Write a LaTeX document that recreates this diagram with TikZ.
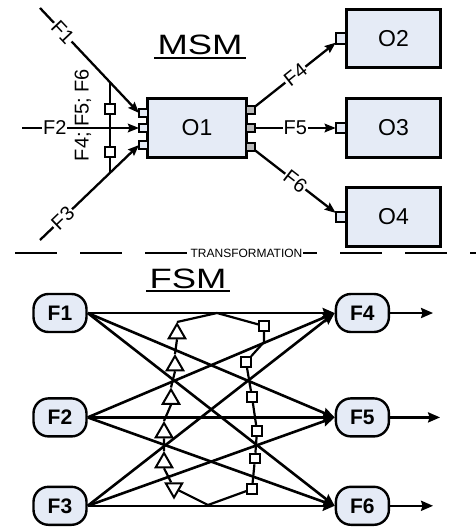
\documentclass[tikz,border=0pt]{standalone}
\usepackage{graphicx}
\usepackage{fontspec}
\setmainfont{Liberation Sans}
\usetikzlibrary{arrows.meta, positioning, shapes.geometric}

\definecolor{boxblue}{RGB}{229,235,246}

\begin{document}
\begin{tikzpicture}[
    x=1pt, y=-1pt,
    block/.style={rectangle, draw, fill=boxblue, line width=2.8pt, outer sep=0pt, inner sep=0pt, font=\fontsize{23}{23}\selectfont},
    state/.style={rectangle, draw, fill=boxblue, rounded corners=15pt, line width=2.4pt, minimum width=53pt, minimum height=38pt, inner sep=0pt, font=\fontsize{21}{21}\selectfont\bfseries},
    inport/.style={rectangle, draw, fill=boxblue, line width=1.7pt, minimum size=8.5pt, inner sep=0pt, outer sep=0pt},
    outport/.style={inport, fill=gray!55},
    tap/.style={rectangle, draw, fill=white, line width=2pt, minimum size=9.5pt, inner sep=0pt},
    flowtri/.style={regular polygon, regular polygon sides=3, draw, fill=white, line width=2pt, minimum size=19pt, inner sep=0pt},
    arrow/.style={-{Stealth[length=11pt, width=8.5pt, inset=1.5pt]}, line width=2.3pt},
    flow/.style={-{Stealth[length=12pt, width=10pt, inset=1.5pt]}, line width=2.6pt},
    flabel/.style={fill=white, inner sep=1pt, font=\fontsize{20}{20}\selectfont},
    title/.style={inner xsep=3pt, inner ysep=0pt, font=\fontsize{28}{28}\selectfont}
]
    \useasboundingbox (0,0) rectangle (476,527);

    % MSM title
    \node[title, anchor=base] (msm) at (200,55) {\scalebox{1.3}[1]{MSM}};
    \draw[line width=1.7pt] ([yshift=-3pt]msm.base west) -- ([yshift=-3pt]msm.base east);

    % Objects
    \node[block, minimum width=99pt, minimum height=59.5pt] (O1) at (197,128) {O1};
    \node[block, minimum width=94.5pt, minimum height=58.5pt] (O3) at (393.5,128) {O3};
    \node[block, minimum width=94.5pt, minimum height=58.5pt, above=31pt of O3] (O2) {O2};
    \node[block, minimum width=94.5pt, minimum height=58.5pt, below=30.5pt of O3] (O4) {O4};

    % Ports
    \node[inport, anchor=east] (in1) at ([yshift=15pt]O1.west) {};
    \node[inport, anchor=east] (in2) at (O1.west) {};
    \node[inport, anchor=east] (in3) at ([yshift=-17pt]O1.west) {};
    \node[outport, anchor=west] (out1) at ([yshift=18pt]O1.east) {};
    \node[outport, anchor=west] (out2) at (O1.east) {};
    \node[outport, anchor=west] (out3) at ([yshift=-19pt]O1.east) {};
    \node[inport, minimum size=10.5pt, anchor=east] (o2in) at (O2.west) {};
    \node[inport, minimum size=10.5pt, anchor=east] (o3in) at (O3.west) {};
    \node[inport, minimum size=10.5pt, anchor=east] (o4in) at (O4.west) {};

    % Inputs of O1
    \coordinate (f1in) at (40,8);
    \coordinate (f2in) at (22,128);
    \coordinate (f3in) at (40,240);
    \draw[arrow] (f1in) -- node[flabel, sloped, pos=0.23] {F1} (in1.west);
    \draw[arrow] (f2in) -- node[flabel, pos=0.28] {F2} (in2.west);
    \draw[arrow] (f3in) -- node[flabel, sloped, pos=0.23] {F3} (in3.west);

    % Bus with taps
    \coordinate (bustop) at (110,82);
    \coordinate (busbot) at (110,173);
    \node[tap] (tap1) at (110,109) {};
    \node[tap] (tap2) at (110,152) {};
    \draw[line width=2pt] (bustop) -- (tap1) -- (tap2) -- (busbot);
    \node[rotate=90, font=\fontsize{20}{20}\selectfont] (buslabel) at (83,115) {F4; F5; F6};

    % Outputs of O1
    \draw[arrow] (out1) -- node[flabel, sloped] {F4} (o2in);
    \draw[arrow] (out2) -- node[flabel] {F5} (o3in);
    \draw[arrow] (out3) -- node[flabel, sloped] {F6} (o4in);

    % Separator
    \coordinate (sepl) at (15,253);
    \coordinate (sepr) at (476,253);
    \draw[line width=2.4pt, dash pattern=on 42pt off 23pt] (sepl) -- (sepr);
    \node[fill=white, inner xsep=1pt, inner ysep=2pt, font=\fontsize{12}{12}\selectfont] (trans) at (246.5,253) {TRANSFORMATION};

    % FSM title
    \node[title, anchor=base] (fsm) at (188,288) {\scalebox{1.3}[1]{FSM}};
    \draw[line width=1.7pt] ([yshift=-3pt]fsm.base west) -- ([yshift=-3pt]fsm.base east);

    % Flows
    \node[state] (F1) at (60,313) {F1};
    \node[state, below=64pt of F1] (F2) {F2};
    \node[state, below=48pt of F2] (F3) {F3};
    \node[state, right=247pt of F1] (F4) {F4};
    \node[state, right=247pt of F2] (F5) {F5};
    \node[state, right=247pt of F3] (F6) {F6};

    % Transitions
    \draw[flow] (F1.east) -- (F4.west);
    \draw[flow] (F1.east) -- (F5.west);
    \draw[flow] (F1.east) -- (F6.west);
    \draw[flow] (F2.east) -- (F4.west);
    \draw[flow] (F2.east) -- (F5.west);
    \draw[flow] (F2.east) -- (F6.west);
    \draw[flow] (F3.east) -- (F4.west);
    \draw[flow] (F3.east) -- (F5.west);
    \draw[flow] (F3.east) -- (F6.west);

    % Outgoing flows
    \coordinate[right=43pt of F4] (end4);
    \coordinate[right=50pt of F5] (end5);
    \coordinate[right=43pt of F6] (end6);
    \draw[flow] (F4) -- (end4);
    \draw[flow] (F5) -- (end5);
    \draw[flow] (F6) -- (end6);

    % Loop with markers
    \coordinate (looptop) at (217,313);
    \coordinate (loopbot) at (208,505);
    \coordinate (bend) at (264,342);
    \node[flowtri] (t1) at (177,333.5) {};
    \node[flowtri] (t2) at (175,365.5) {};
    \node[flowtri] (t3) at (171,399) {};
    \node[flowtri] (t4) at (164,432.5) {};
    \node[flowtri] (t5) at (164,462.5) {};
    \node[flowtri, shape border rotate=180] (t6) at (174,488) {};
    \node[tap] (s1) at (264,326) {};
    \node[tap] (s2) at (246,362) {};
    \node[tap] (s3) at (252,397) {};
    \node[tap] (s4) at (257,431) {};
    \node[tap] (s5) at (255,458.5) {};
    \node[tap] (s6) at (252,489) {};
    \draw[line width=2.2pt] (looptop) -- (t1.north) (t1.south) -- (t2.north) (t2.south) -- (t3.north)
        (t3.south) -- (t4.north) (t4.south) -- (t5.north) (t5.south) -- (t6) -- (loopbot)
        -- (s6) -- (s5) -- (s4) -- (s3) -- (s2) -- (bend) -- (s1) -- (looptop);

\end{tikzpicture}
\end{document}
